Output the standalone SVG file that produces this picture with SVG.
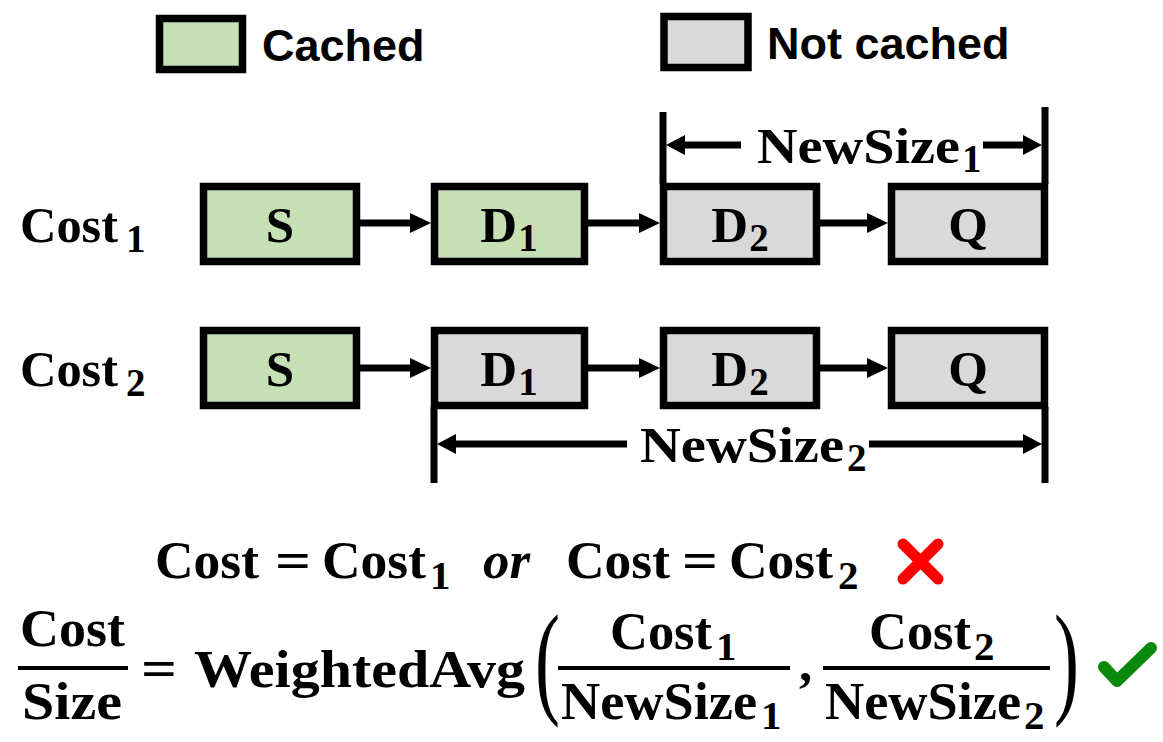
<svg xmlns="http://www.w3.org/2000/svg" width="1163" height="742" viewBox="0 0 1163 742">
<style>
.box{stroke:#000;stroke-width:7.5}
.g{fill:#C5E0B4}
.n{fill:#D9D9D9}
.leg{font-family:"Liberation Sans",Arial,sans-serif;font-weight:bold;font-size:45px;fill:#000}
.m{font-family:"Liberation Serif","Times New Roman",serif;font-weight:bold;fill:#000}
.lbl{font-size:51px}
.sub{font-size:39px}
.eq{font-size:53px}
.esub{font-size:41px}
.con{stroke:#000;stroke-width:7;fill:none}
.par{font-family:"Liberation Serif","Times New Roman",serif;font-size:125px;fill:#000}
</style>
<defs>
<marker id="ah" markerUnits="userSpaceOnUse" markerWidth="21" markerHeight="22" refX="2" refY="11" orient="auto">
<path d="M0,1 L21,11 L0,21 z" fill="#000"/>
</marker>
<marker id="dh" markerUnits="userSpaceOnUse" markerWidth="19" markerHeight="22" refX="2" refY="11" orient="auto">
<path d="M0,1 L19,11 L0,21 z" fill="#000"/>
</marker>
</defs>

<g id="legend-cached">
<rect class="box g" x="159.5" y="18.5" width="83" height="51"/>
<text class="leg" x="262" y="61">Cached</text>
</g>
<g id="legend-notcached">
<rect class="box n" x="664" y="16.5" width="84" height="51"/>
<text class="leg" x="767" y="59">Not cached</text>
</g>

<g id="label-cost1"><text class="m lbl" x="20" y="242" textLength="98" lengthAdjust="spacingAndGlyphs">Cost</text><text class="m sub" x="126" y="252">1</text></g>
<g id="label-cost2"><text class="m lbl" x="20" y="386" textLength="98" lengthAdjust="spacingAndGlyphs">Cost</text><text class="m sub" x="126" y="396">2</text></g>

<g id="r1-S"><rect class="box g" x="203.5" y="186.5" width="153" height="75"/><text class="m lbl" x="280" y="242" text-anchor="middle">S</text></g>
<g id="r1-D1"><rect class="box g" x="434.5" y="186.5" width="150" height="75"/><text class="m lbl" x="509" y="242" text-anchor="middle">D<tspan class="sub" dx="1" dy="9">1</tspan></text></g>
<g id="r1-D2"><rect class="box n" x="663.5" y="186.5" width="153" height="75"/><text class="m lbl" x="740" y="242" text-anchor="middle">D<tspan class="sub" dx="1" dy="9">2</tspan></text></g>
<g id="r1-Q"><rect class="box n" x="891.5" y="186.5" width="153" height="75"/><text class="m lbl" x="968" y="242" text-anchor="middle">Q</text></g>

<g id="r2-S"><rect class="box g" x="203.5" y="330.5" width="153" height="75"/><text class="m lbl" x="280" y="386" text-anchor="middle">S</text></g>
<g id="r2-D1"><rect class="box n" x="434.5" y="330.5" width="150" height="75"/><text class="m lbl" x="509" y="386" text-anchor="middle">D<tspan class="sub" dx="1" dy="9">1</tspan></text></g>
<g id="r2-D2"><rect class="box n" x="663.5" y="330.5" width="153" height="75"/><text class="m lbl" x="740" y="386" text-anchor="middle">D<tspan class="sub" dx="1" dy="9">2</tspan></text></g>
<g id="r2-Q"><rect class="box n" x="891.5" y="330.5" width="153" height="75"/><text class="m lbl" x="968" y="386" text-anchor="middle">Q</text></g>

<g id="connectors">
<line class="con" x1="360" y1="223" x2="412" y2="223" marker-end="url(#ah)"/>
<line class="con" x1="588" y1="223" x2="641" y2="223" marker-end="url(#ah)"/>
<line class="con" x1="820" y1="223" x2="869" y2="223" marker-end="url(#ah)"/>
<line class="con" x1="360" y1="368" x2="412" y2="368" marker-end="url(#ah)"/>
<line class="con" x1="588" y1="368" x2="641" y2="368" marker-end="url(#ah)"/>
<line class="con" x1="820" y1="368" x2="869" y2="368" marker-end="url(#ah)"/>
</g>

<g id="dim-newsize1">
<line class="con" x1="663" y1="112" x2="663" y2="184"/>
<line class="con" x1="1045" y1="107" x2="1045" y2="184"/>
<line class="con" x1="741" y1="145" x2="683" y2="145" marker-end="url(#dh)"/>
<line class="con" x1="983" y1="145" x2="1025" y2="145" marker-end="url(#dh)"/>
<text class="m lbl" x="757" y="163" textLength="203" lengthAdjust="spacingAndGlyphs">NewSize</text>
<text class="m sub" x="962" y="172">1</text>
</g>
<g id="dim-newsize2">
<line class="con" x1="434" y1="407" x2="434" y2="483"/>
<line class="con" x1="1045" y1="407" x2="1045" y2="483"/>
<line class="con" x1="627" y1="444" x2="454" y2="444" marker-end="url(#dh)"/>
<line class="con" x1="869" y1="444" x2="1025" y2="444" marker-end="url(#dh)"/>
<text class="m lbl" x="640" y="462" textLength="204" lengthAdjust="spacingAndGlyphs">NewSize</text>
<text class="m sub" x="847" y="471">2</text>
</g>

<g id="eq1">
<text class="m eq" x="155" y="578" textLength="104" lengthAdjust="spacingAndGlyphs">Cost</text>
<text class="m eq" x="275" y="578" textLength="36" lengthAdjust="spacingAndGlyphs">=</text>
<text class="m eq" x="322" y="578" textLength="104" lengthAdjust="spacingAndGlyphs">Cost</text>
<text class="m esub" x="430" y="589">1</text>
<text class="m eq" x="483" y="578" font-style="italic">or</text>
<text class="m eq" x="566" y="578" textLength="104" lengthAdjust="spacingAndGlyphs">Cost</text>
<text class="m eq" x="682" y="578" textLength="36" lengthAdjust="spacingAndGlyphs">=</text>
<text class="m eq" x="729" y="578" textLength="104" lengthAdjust="spacingAndGlyphs">Cost</text>
<text class="m esub" x="838" y="589">2</text>
<path d="M903,544 L938,579 M938,544 L903,579" stroke="#FF0000" stroke-width="11" stroke-linecap="round" fill="none"/>
</g>

<g id="eq2">
<text class="m eq" x="20" y="646" textLength="105" lengthAdjust="spacingAndGlyphs">Cost</text>
<line x1="18" y1="668" x2="128" y2="668" stroke="#000" stroke-width="4"/>
<text class="m eq" x="22" y="719" textLength="100" lengthAdjust="spacingAndGlyphs">Size</text>
<text class="m eq" x="141" y="686" textLength="36" lengthAdjust="spacingAndGlyphs">=</text>
<text class="m eq" x="194" y="687" textLength="331" lengthAdjust="spacingAndGlyphs">WeightedAvg</text>
<text class="par" transform="translate(535,701) scale(0.6,1)">(</text>
<text class="m eq" x="610" y="649" textLength="102" lengthAdjust="spacingAndGlyphs">Cost</text>
<text class="m esub" x="716" y="660">1</text>
<line x1="558" y1="668" x2="790" y2="668" stroke="#000" stroke-width="4"/>
<text class="m eq" x="561" y="719" textLength="196" lengthAdjust="spacingAndGlyphs">NewSize</text>
<text class="m esub" x="761" y="729">1</text>
<text class="m eq" x="799" y="681">,</text>
<text class="m eq" x="869" y="649" textLength="102" lengthAdjust="spacingAndGlyphs">Cost</text>
<text class="m esub" x="974" y="660">2</text>
<line x1="823" y1="668" x2="1050" y2="668" stroke="#000" stroke-width="4"/>
<text class="m eq" x="825" y="719" textLength="196" lengthAdjust="spacingAndGlyphs">NewSize</text>
<text class="m esub" x="1024" y="729">2</text>
<text class="par" transform="translate(1054,701) scale(0.6,1)">)</text>
<polyline points="1104,667 1117,681 1151,648" stroke="#0A8A0A" stroke-width="12" stroke-linecap="round" stroke-linejoin="round" fill="none"/>
</g>
</svg>
